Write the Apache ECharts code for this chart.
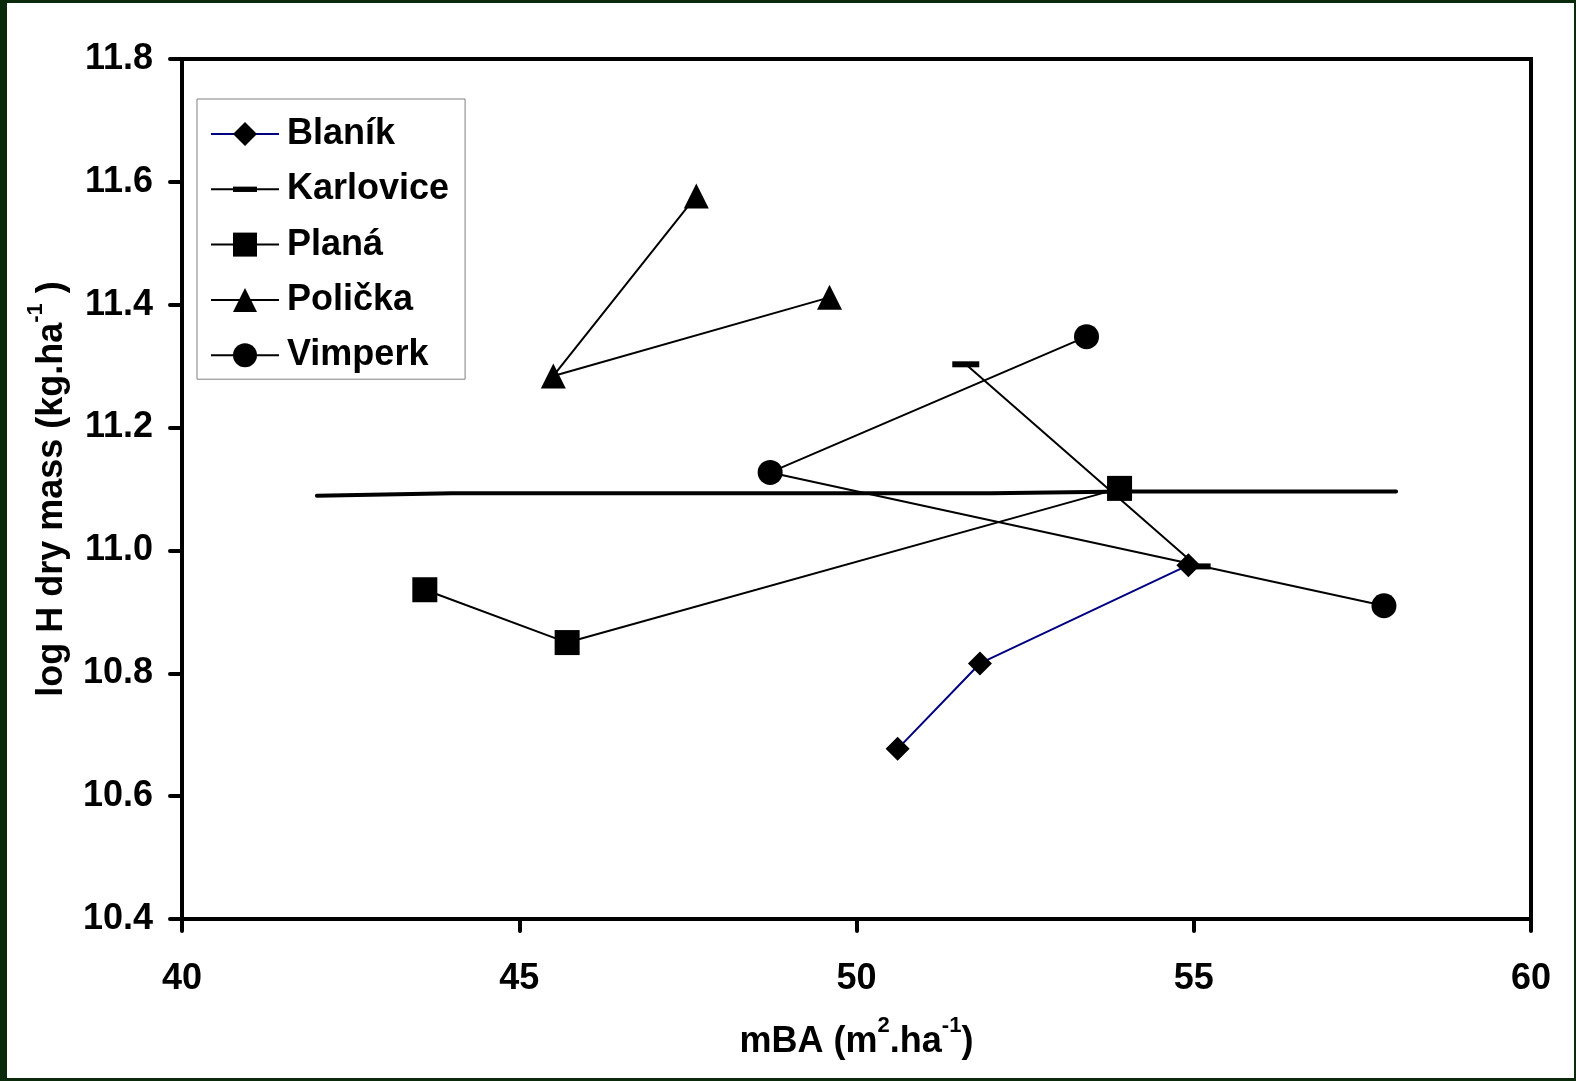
<!DOCTYPE html>
<html><head><meta charset="utf-8">
<script src="https://cdn.jsdelivr.net/npm/echarts@6/dist/echarts.min.js"></script>
<style>
html,body{margin:0;padding:0;background:#0b2a0b;width:1576px;height:1081px;overflow:hidden}
#c{position:absolute;left:7px;top:3px;width:1567px;height:1075px;background:#fff}
</style></head><body><div id="c"></div>
<script>
// ---- data ----
const seriesNames = ['Blaník', 'Karlovice', 'Planá', 'Polička', 'Vimperk'];
const blanikX = [50.61, 51.83, 54.92];
const blanikY = [10.677, 10.816, 10.976];
const karloviceX = [51.62, 55.05];
const karloviceY = [11.303, 10.974];
const planaX = [43.60, 45.71, 53.90];
const planaY = [10.936, 10.850, 11.101];
const polickaX = [47.625, 45.505, 49.60];
const polickaY = [11.577, 11.284, 11.412];
const vimperkX = [53.41, 48.72, 57.82];
const vimperkY = [11.348, 11.127, 10.910];
const trendX = [42, 44, 52, 54, 58];
const trendY = [11.089, 11.093, 11.093, 11.096, 11.096];
const xTicks = [40, 45, 50, 55, 60];
const yTicks = [10.4, 10.6, 10.8, 11.0, 11.2, 11.4, 11.6, 11.8];

const FONT = 'Liberation Sans, Arial, sans-serif';
const FS = 36;
const zip = (xs, ys) => xs.map((x, i) => [x, ys[i]]);
const dashPath = 'path://M0,0 L0,0 M27,27 L27,27 M0,10.5 L27,10.5 L27,16.5 L0,16.5 Z';

const chart = echarts.init(document.getElementById('c'), null, {renderer: 'canvas'});

function lineSeries(name, data, symbol, size, lineColor) {
  return {
    name: name, type: 'line', data: data, symbol: symbol, symbolSize: size,
    showSymbol: true, animation: false,
    lineStyle: {color: lineColor || '#000', width: 2},
    itemStyle: {color: '#000', borderWidth: 0},
    emphasis: {disabled: true}
  };
}

const option = {
  animation: false,
  backgroundColor: '#fff',
  grid: {left: 175, top: 56, right: 43, bottom: 159, show: true, borderColor: '#000', borderWidth: 4, backgroundColor: 'transparent'},
  legend: {
    orient: 'vertical', left: 190, top: 96,
    data: seriesNames,
    itemWidth: 68, itemHeight: 30, itemGap: 19.3,
    padding: [17, 16, 6, 13],
    borderColor: '#808080', borderWidth: 1, backgroundColor: '#fff',
    textStyle: {fontFamily: FONT, fontSize: FS, fontWeight: 'bold', color: '#000', lineHeight: 30, padding: [0, 0, 0, 3]},
    selectedMode: false
  },
  xAxis: {
    type: 'value', min: 40, max: 60, interval: 5,
    axisLine: {show: true, lineStyle: {color: '#000', width: 4}},
    axisTick: {show: true, length: 12, lineStyle: {color: '#000', width: 4, cap: 'round'}},
    splitLine: {show: false},
    axisLabel: {fontFamily: FONT, fontSize: FS, fontWeight: 'bold', color: '#000', margin: 42, lineHeight: 36,
      formatter: v => xTicks.includes(v) ? String(v) : ''},
    name: '{m|mBA (m}{s|2}{m|.ha}{s|-1}{m|)}',
    nameLocation: 'middle', nameGap: 96,
    nameTextStyle: {rich: {
      m: {fontFamily: FONT, fontSize: FS, fontWeight: 'bold', color: '#000', lineHeight: 54},
      s: {fontFamily: FONT, fontSize: 22, fontWeight: 'bold', color: '#000', lineHeight: 22, verticalAlign: 'top'}
    }}
  },
  yAxis: {
    type: 'value', min: 10.4, max: 11.8, interval: 0.2,
    axisLine: {show: true, lineStyle: {color: '#000', width: 4}},
    axisTick: {show: true, length: 12, lineStyle: {color: '#000', width: 4, cap: 'round'}},
    splitLine: {show: false},
    axisLabel: {fontFamily: FONT, fontSize: FS, fontWeight: 'bold', color: '#000', margin: 29,
      formatter: v => v.toFixed(1)},
    name: '{m|log H dry mass (kg.ha}{s|-1}{m| )}',
    nameLocation: 'middle', nameGap: 103,
    nameTextStyle: {rich: {
      m: {fontFamily: FONT, fontSize: FS, fontWeight: 'bold', color: '#000', lineHeight: 54},
      s: {fontFamily: FONT, fontSize: 22, fontWeight: 'bold', color: '#000', lineHeight: 22, verticalAlign: 'top'}
    }}
  },
  series: [
    {
      name: 'trend', type: 'line', data: zip(trendX, trendY), symbol: 'none',
      lineStyle: {color: '#000', width: 4, cap: 'round'}, emphasis: {disabled: true}, z: 1
    },
    lineSeries('Blaník', zip(blanikX, blanikY), 'diamond', 24, '#000080'),
    lineSeries('Karlovice', zip(karloviceX, karloviceY), dashPath, 27),
    lineSeries('Planá', zip(planaX, planaY), 'rect', 25),
    lineSeries('Polička', zip(polickaX, polickaY), 'triangle', 25),
    lineSeries('Vimperk', zip(vimperkX, vimperkY), 'circle', 25)
  ]
};
chart.setOption(option);
</script>
</body></html>
